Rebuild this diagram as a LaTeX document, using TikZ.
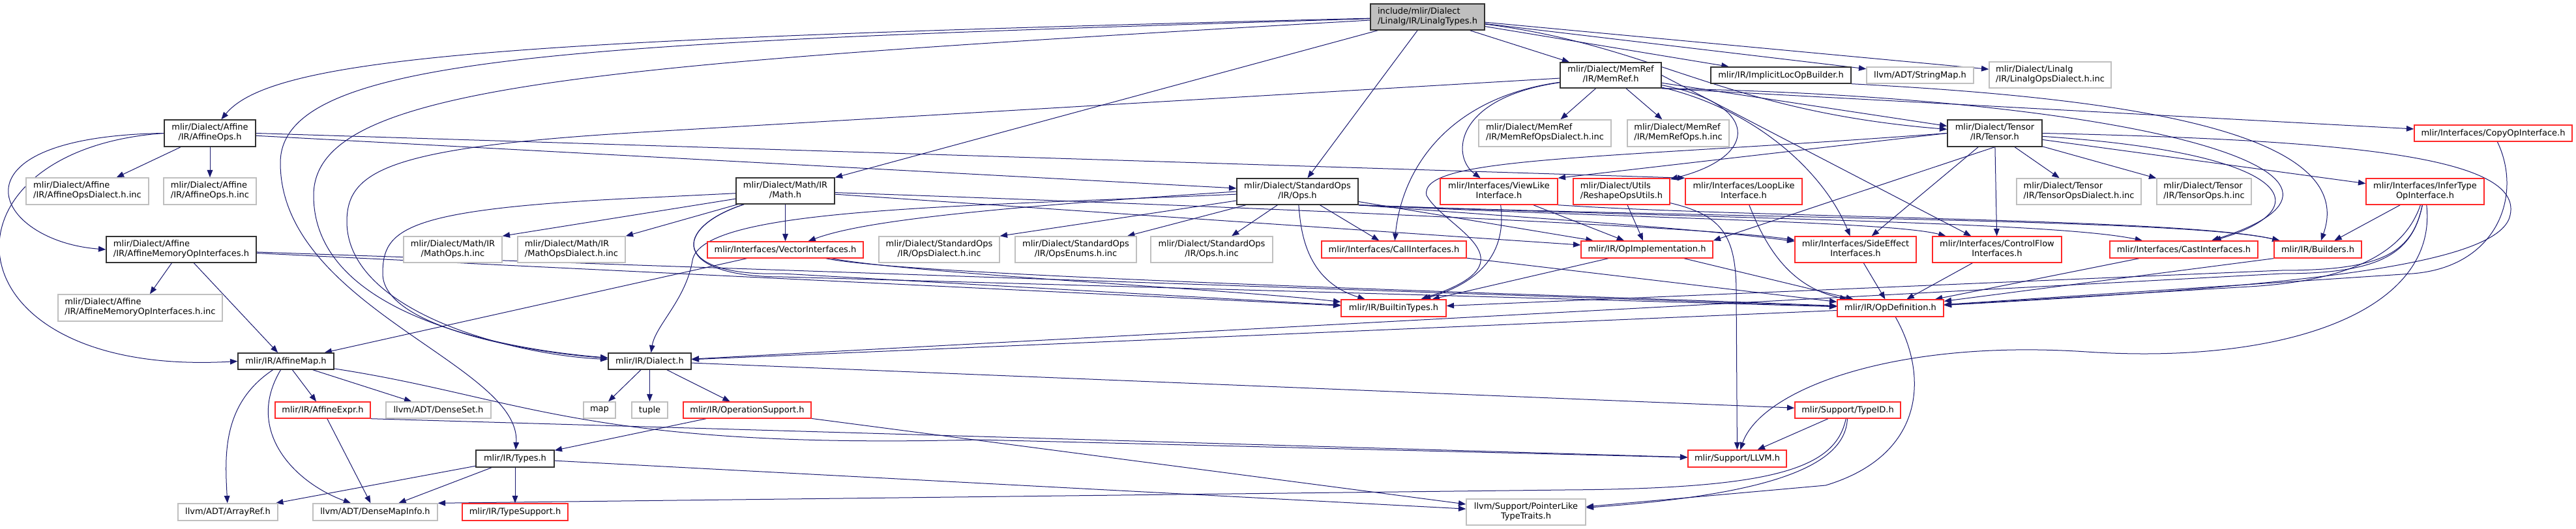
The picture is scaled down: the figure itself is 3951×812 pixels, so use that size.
\documentclass[tikz,border=0pt]{standalone}
\usepackage{fontspec}
\setmainfont{DejaVu Sans}
\usetikzlibrary{arrows.meta,backgrounds}
\definecolor{edgec}{RGB}{25,25,112}
\definecolor{grayb}{RGB}{191,191,191}
\definecolor{nodeblack}{RGB}{50,50,50}
\definecolor{nodered}{RGB}{255,40,40}
\newcommand\nodefont{\fontsize{9.75pt}{11.25pt}\selectfont}
\newcommand\twoL[2]{\begin{tabular}{@{}l@{}}#1\\\multicolumn{1}{@{}c@{}}{#2}\end{tabular}}
\newcommand\nd[7]{%
  \pgfmathsetmacro\ndcx{(#3+#4)/2}\pgfmathsetmacro\ndcy{(#5+#6)/2}%
  \pgfmathsetmacro\ndw{(#4-#3)*0.75}\pgfmathsetmacro\ndh{(#6-#5)*0.75}%
  \node[#2,minimum width=\ndw pt,minimum height=\ndh pt] (#1) at (\ndcx,\ndcy) {#7};}
\begin{document}
\begin{tikzpicture}[x=0.75pt,y=-0.75pt,
  base/.style={draw, line width=1.05pt, inner sep=0pt, font=\nodefont, align=center, text=black, fill=white},
  blk/.style={base, draw=nodeblack},
  gry/.style={base, draw=grayb},
  rd/.style={base, draw=nodered},
  mainn/.style={base, draw=nodeblack, fill=grayb},
  edg/.style={draw=edgec, line width=0.75pt, -{Triangle[length=8.5pt,width=6.5pt]}},
]
\useasboundingbox (0,0) rectangle (3951,812);
% ---------- nodes ----------
\nd{main}{mainn}{2102}{2277}{6}{46}{\twoL{include/mlir/Dialect}{/Linalg/IR/LinalgTypes.h}}
\nd{memref}{blk}{2393}{2548}{96}{135}{\twoL{mlir/Dialect/MemRef}{/IR/MemRef.h}}
\nd{implicit}{blk}{2624}{2839}{103}{128}{mlir/IR/ImplicitLocOpBuilder.h}
\nd{stringmap}{gry}{2863}{3027}{103}{128}{llvm/ADT/StringMap.h}
\nd{linalgd}{gry}{3051}{3238}{95}{135}{\twoL{mlir/Dialect/Linalg}{/IR/LinalgOpsDialect.h.inc}}
\nd{affineops}{blk}{252}{392}{184}{225}{\twoL{mlir/Dialect/Affine}{/IR/AffineOps.h}}
\nd{memrefd}{gry}{2268}{2471}{184}{225}{\twoL{mlir/Dialect/MemRef}{/IR/MemRefOpsDialect.h.inc}}
\nd{memrefops}{gry}{2496}{2652}{184}{225}{\twoL{mlir/Dialect/MemRef}{/IR/MemRefOps.h.inc}}
\nd{tensor}{blk}{2987}{3132}{184}{225}{\twoL{mlir/Dialect/Tensor}{/IR/Tensor.h}}
\nd{copyop}{rd}{3703}{3945}{192}{217}{mlir/Interfaces/CopyOpInterface.h}
\nd{affinedinc}{gry}{40}{228}{273}{314}{\twoL{mlir/Dialect/Affine}{/IR/AffineOpsDialect.h.inc}}
\nd{affineopsinc}{gry}{251}{393}{273}{314}{\twoL{mlir/Dialect/Affine}{/IR/AffineOps.h.inc}}
\nd{math}{blk}{1129}{1280}{273}{313}{\twoL{mlir/Dialect/Math/IR}{/Math.h}}
\nd{stdops}{blk}{1897}{2083}{274}{314}{\twoL{mlir/Dialect/StandardOps}{/IR/Ops.h}}
\nd{viewlike}{rd}{2209}{2389}{274}{314}{\twoL{mlir/Interfaces/ViewLike}{Interface.h}}
\nd{reshape}{rd}{2413}{2561}{274}{314}{\twoL{mlir/Dialect/Utils}{/ReshapeOpsUtils.h}}
\nd{looplike}{rd}{2585}{2764}{274}{314}{\twoL{mlir/Interfaces/LoopLike}{Interface.h}}
\nd{tensord}{gry}{3093}{3284}{274}{314}{\twoL{mlir/Dialect/Tensor}{/IR/TensorOpsDialect.h.inc}}
\nd{tensoropsinc}{gry}{3308}{3453}{274}{314}{\twoL{mlir/Dialect/Tensor}{/IR/TensorOps.h.inc}}
\nd{infertype}{rd}{3629}{3810}{274}{314}{\twoL{mlir/Interfaces/InferType}{OpInterface.h}}
\nd{amoi}{blk}{163}{393}{363}{403}{\twoL{mlir/Dialect/Affine}{/IR/AffineMemoryOpInterfaces.h}}
\nd{mathopsinc}{gry}{619}{770}{363}{403}{\twoL{mlir/Dialect/Math/IR}{/MathOps.h.inc}}
\nd{mathdinc}{gry}{794}{959}{363}{403}{\twoL{mlir/Dialect/Math/IR}{/MathOpsDialect.h.inc}}
\nd{vector}{rd}{1085}{1324}{371}{396}{mlir/Interfaces/VectorInterfaces.h}
\nd{opsdinc}{gry}{1348}{1533}{363}{403}{\twoL{mlir/Dialect/StandardOps}{/IR/OpsDialect.h.inc}}
\nd{opsenums}{gry}{1557}{1743}{363}{403}{\twoL{mlir/Dialect/StandardOps}{/IR/OpsEnums.h.inc}}
\nd{opsinc}{gry}{1765}{1952}{363}{403}{\twoL{mlir/Dialect/StandardOps}{/IR/Ops.h.inc}}
\nd{callif}{rd}{2027}{2249}{370}{396}{mlir/Interfaces/CallInterfaces.h}
\nd{opimpl}{rd}{2425}{2627}{370}{396}{mlir/IR/OpImplementation.h}
\nd{sideeff}{rd}{2753}{2939}{363}{403}{\twoL{mlir/Interfaces/SideEffect}{Interfaces.h}}
\nd{ctrlflow}{rd}{2964}{3162}{363}{403}{\twoL{mlir/Interfaces/ControlFlow}{Interfaces.h}}
\nd{castif}{rd}{3236}{3463}{370}{396}{mlir/Interfaces/CastInterfaces.h}
\nd{builders}{rd}{3488}{3622}{370}{396}{mlir/IR/Builders.h}
\nd{amoiinc}{gry}{89}{341}{452}{493}{\twoL{mlir/Dialect/Affine}{/IR/AffineMemoryOpInterfaces.h.inc}}
\nd{builtin}{rd}{2057}{2218}{460}{486}{mlir/IR/BuiltinTypes.h}
\nd{opdef}{rd}{2818}{2981}{460}{486}{mlir/IR/OpDefinition.h}
\nd{affinemap}{blk}{365}{512}{542}{567}{mlir/IR/AffineMap.h}
\nd{dialect}{blk}{933}{1060}{542}{567}{mlir/IR/Dialect.h}
\nd{affineexpr}{rd}{422}{568}{617}{642}{mlir/IR/AffineExpr.h}
\nd{denseset}{gry}{592}{753}{617}{642}{llvm/ADT/DenseSet.h}
\nd{map}{gry}{895}{944}{617}{642}{map}
\nd{tuple}{gry}{969}{1024}{617}{642}{tuple}
\nd{opsupport}{rd}{1048}{1244}{617}{642}{mlir/IR/OperationSupport.h}
\nd{typeid}{rd}{2753}{2915}{617}{642}{mlir/Support/TypeID.h}
\nd{types}{blk}{730}{850}{691}{717}{mlir/IR/Types.h}
\nd{llvmh}{rd}{2589}{2740}{691}{717}{mlir/Support/LLVM.h}
\nd{arrayref}{gry}{273}{426}{773}{799}{llvm/ADT/ArrayRef.h}
\nd{densemap}{gry}{480}{671}{773}{799}{llvm/ADT/DenseMapInfo.h}
\nd{typesupport}{rd}{709}{871}{773}{799}{mlir/IR/TypeSupport.h}
\nd{pointerlike}{gry}{2249}{2432}{766}{806}{\twoL{llvm/Support/PointerLike}{TypeTraits.h}}
% ---------- edges ----------
\begin{pgfonlayer}{background}
\fill[white] (0,0) rectangle (3951,812);
% main
\draw[edg] (main) .. controls (800,60) and (420,85) .. (affineops);
\draw[edg] (main) .. controls (900,66) and (430,80) .. (430,250) .. controls (430,470) and (800,560) .. (types);
\draw[edg] (main) .. controls (900,100) and (481,130) .. (481,300) .. controls (481,480) and (760,535) .. (dialect);
\draw[edg] (main) -- (math);
\draw[edg] (main) -- (stdops);
\draw[edg] (main) -- (memref);
\draw[edg] (main) -- (implicit);
\draw[edg] (main) -- (stringmap);
\draw[edg] (main) -- (linalgd);
\draw[edg] (main) .. controls (2540,70) and (2640,170) .. (tensor);
% affine ops
\draw[edg] (affineops) -- (affinedinc);
\draw[edg] (affineops) -- (affineopsinc);
\draw[edg] (affineops.west) .. controls (-90,210) and (-10,370) .. (amoi.west);
\draw[edg] (affineops.west) .. controls (-110,230) and (-90,580) .. (affinemap.west);
\draw[edg] (affineops) -- (stdops);
\draw[edg] (affineops.east) -- (looplike.north west);
% affine memory op interfaces
\draw[edg] (amoi) -- (amoiinc);
\draw[edg] (amoi) -- (affinemap);
\draw[edg] (amoi) -- (builtin);
\draw[edg] (amoi) -- (opdef);
% math
\draw[edg] (math) -- (mathopsinc.north east);
\draw[edg] (math) -- (mathdinc.north east);
\draw[edg] (math) -- (vector);
\draw[edg] (math) -- (1000,303) .. controls (620,320) and (587,350) .. (587,420) .. controls (587,500) and (800,540) .. (dialect);
\draw[edg] (math) .. controls (1030,350) and (1030,425) .. (1200,420) -- (builtin);
\draw[edg] (math) .. controls (1030,350) and (1030,425) .. (1200,425) -- (opdef);
\draw[edg] (math) -- (opimpl);
\draw[edg] (math) .. controls (1700,310) and (2600,345) .. (sideeff);
% standard ops
\draw[edg] (stdops) -- (opsdinc.north east);
\draw[edg] (stdops) -- (opsenums);
\draw[edg] (stdops) -- (opsinc);
\draw[edg] (stdops.west) .. controls (1500,320) and (1320,340) .. (vector);
\draw[edg] (stdops) -- (callif);
\draw[edg] (stdops) -- (opimpl);
\draw[edg] (stdops.south east) .. controls (2350,335) and (2600,350) .. (sideeff);
\draw[edg] (stdops.south east) .. controls (2500,335) and (2900,340) .. (ctrlflow);
\draw[edg] (stdops.south east) .. controls (2600,335) and (3150,340) .. (castif);
\draw[edg] (stdops.south east) .. controls (2600,335) and (3350,335) .. (builders);
\draw[edg] (stdops) .. controls (1995,350) and (2000,430) .. (builtin);
\draw[edg] (stdops) .. controls (1450,318) and (1075,320) .. (1062,400) .. controls (1052,460) and (1005,500) .. (dialect);
% memref
\draw[edg] (memref) -- (memrefd);
\draw[edg] (memref) -- (memrefops);
\draw[edg] (memref) .. controls (2230,150) and (2225,240) .. (viewlike);
\draw[edg] (memref) .. controls (2220,150) and (2150,260) .. (callif);
\draw[edg] (memref) .. controls (2700,160) and (2700,240) .. (reshape);
\draw[edg] (memref) .. controls (2700,170) and (2800,270) .. (sideeff);
\draw[edg] (memref.east) -- (ctrlflow);
\draw[edg] (memref.south east) .. controls (3300,150) and (3700,270) .. (castif);
\draw[edg] (memref.south east) -- (copyop);
\draw[edg] (memref) -- (tensor);
\draw[edg] (memref) -- (1000,202) .. controls (600,225) and (532,260) .. (532,340) .. controls (532,480) and (790,545) .. (dialect);
% implicit loc op builder
\draw[edg] (implicit.south east) .. controls (3250,150) and (3620,200) .. (builders);
% tensor
\draw[edg] (tensor) -- (tensord);
\draw[edg] (tensor) -- (tensoropsinc);
\draw[edg] (tensor) -- (infertype);
\draw[edg] (tensor.west) -- (viewlike.north east);
\draw[edg] (tensor.west) .. controls (2450,245) and (2175,240) .. (2188,300) .. controls (2215,350) and (2360,400) .. (builtin);
\draw[edg] (tensor) .. controls (3520,235) and (3560,320) .. (castif);
\draw[edg] (tensor) -- (ctrlflow);
\draw[edg] (tensor) -- (sideeff);
\draw[edg] (tensor.south) -- (opimpl.north east);
\draw[edg] (tensor.east) .. controls (3600,215) and (3870,240) .. (3850,330) .. controls (3835,410) and (3500,440) .. (opdef);
% view like
\draw[edg] (viewlike) .. controls (2310,380) and (2280,430) .. (builtin);
\draw[edg] (viewlike) -- (opimpl);
\draw[edg] (viewlike.south east) .. controls (2700,335) and (3350,335) .. (builders);
% reshape, loop like, call
\draw[edg] (reshape) -- (opimpl);
\draw[edg] (reshape) .. controls (2640,330) and (2663,360) .. (2663,450) -- (llvmh);
\draw[edg] (looplike) .. controls (2705,370) and (2740,440) .. (opdef);
\draw[edg] (callif) -- (opdef);
% op implementation and interfaces
\draw[edg] (opimpl) -- (builtin);
\draw[edg] (opimpl) -- (opdef);
\draw[edg] (sideeff) -- (opdef);
\draw[edg] (ctrlflow) -- (opdef);
\draw[edg] (castif) -- (opdef);
\draw[edg] (builders.south west) -- (opdef);
% infer type
\draw[edg] (infertype) -- (builders);
\draw[edg] (infertype) .. controls (3690,380) and (3620,430) .. (3450,440) -- (opdef);
\draw[edg] (infertype) .. controls (3700,390) and (3650,415) .. (3500,415) -- (builtin);
\draw[edg] (infertype) .. controls (3700,390) and (3650,420) .. (3500,420) -- (dialect);
\draw[edg] (infertype) .. controls (3740,480) and (3500,560) .. (3200,540) .. controls (2900,520) and (2700,600) .. (llvmh);
% copy op
\draw[edg] (copyop) .. controls (3870,300) and (3830,410) .. (3700,420) -- (opdef);
% op definition
\draw[edg] (opdef) -- (dialect);
\draw[edg] (opdef) .. controls (2960,580) and (2950,700) .. (2800,745) -- (pointerlike);
% vector interfaces
\draw[edg] (vector) -- (affinemap);
\draw[edg] (vector) .. controls (1400,420) and (1900,445) .. (builtin);
\draw[edg] (vector) .. controls (1400,425) and (2400,452) .. (opdef);
% dialect
\draw[edg] (dialect) -- (map);
\draw[edg] (dialect) -- (tuple);
\draw[edg] (dialect) -- (opsupport);
\draw[edg] (dialect) -- (typeid);
% operation support
\draw[edg] (opsupport) -- (types);
\draw[edg] (opsupport) -- (pointerlike);
% type id
\draw[edg] (typeid) -- (llvmh);
\draw[edg] (typeid) .. controls (2830,720) and (2700,760) .. (pointerlike);
\draw[edg] (typeid) .. controls (2815,720) and (2720,750) .. (2400,752) -- (densemap.north east);
% affine map
\draw[edg] (affinemap) .. controls (340,620) and (345,700) .. (arrayref);
\draw[edg] (affinemap) .. controls (375,660) and (450,740) .. (densemap);
\draw[edg] (affinemap) -- (affineexpr);
\draw[edg] (affinemap) -- (denseset);
\draw[edg] (affinemap) .. controls (800,610) and (900,690) .. (1500,675) -- (llvmh);
% affine expr
\draw[edg] (affineexpr) -- (densemap);
\draw[edg] (affineexpr.south east) -- (llvmh);
% types
\draw[edg] (types) -- (arrayref);
\draw[edg] (types) -- (densemap);
\draw[edg] (types) -- (typesupport);
\draw[edg] (types) -- (pointerlike);
\end{pgfonlayer}
\end{tikzpicture}
\end{document}
